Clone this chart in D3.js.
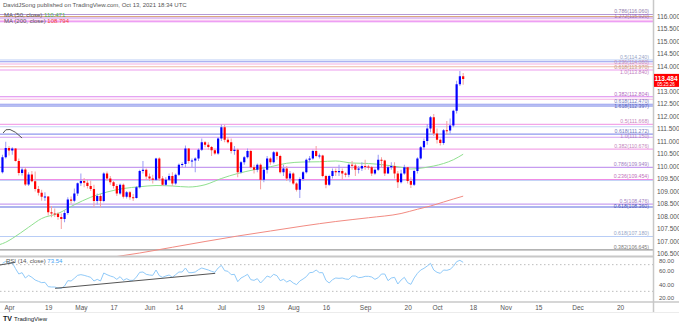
<!DOCTYPE html>
<html><head><meta charset="utf-8">
<script src="https://cdn.jsdelivr.net/npm/d3@7"></script>
<style>body{margin:0;background:#fff;overflow:hidden}svg{display:block;font-family:"Liberation Sans",Arial,sans-serif}</style>
</head><body><svg id="c" width="679" height="325"></svg>
<script>
// ---------- DATA ----------
const firstBarDate = "2021-03-30";
const opens = [109.75,110.35,110.72,110.62,110.70,110.20,109.72,109.86,109.26,109.66,109.39,109.08,108.93,108.77,108.78,108.15,108.10,108.09,107.96,107.88,108.12,108.66,108.61,108.90,109.31,109.40,109.33,109.20,109.08,108.60,108.80,108.60,109.70,109.50,109.35,109.20,108.90,109.25,108.77,108.95,108.75,108.72,109.15,109.80,109.85,109.58,109.50,109.45,110.30,109.50,109.25,109.45,109.60,109.30,109.65,110.05,110.08,110.70,110.20,110.22,110.30,110.65,110.95,110.85,110.76,110.63,110.50,111.10,111.55,111.05,110.95,110.60,110.65,109.75,110.15,110.35,110.60,109.95,109.85,110.05,109.45,109.85,110.30,110.15,110.55,110.40,109.75,109.90,109.50,109.70,109.30,109.05,109.48,109.75,110.25,110.30,110.60,110.40,110.42,109.60,109.25,109.60,109.80,109.75,109.80,109.70,109.65,110.05,110.02,109.85,109.90,110.00,109.98,109.95,109.70,109.85,110.25,110.22,109.70,109.95,110.00,109.70,109.35,109.70,109.95,109.40,109.25,109.80,110.30,110.75,111.00,111.50,111.95,111.30,111.05,110.92,111.43,111.42,111.62,112.21,113.27,113.59];
const highs = [110.45,110.97,110.80,110.75,110.72,110.30,109.95,109.95,109.75,109.80,109.78,109.20,109.05,108.95,108.80,108.40,108.30,108.15,108.10,108.22,108.75,108.78,109.10,109.34,109.70,109.52,109.45,109.42,109.25,108.90,108.88,109.75,109.78,109.60,109.40,109.28,109.30,109.30,109.00,109.00,108.88,109.20,109.85,110.20,109.90,109.70,109.65,110.33,110.35,109.60,109.55,109.70,109.75,109.70,110.10,110.15,110.82,110.72,110.30,110.35,110.70,111.10,111.00,110.95,110.80,110.70,111.15,111.66,111.65,111.15,111.10,110.80,110.70,110.20,110.40,110.70,110.65,110.05,110.10,110.10,109.95,110.40,110.35,110.60,110.60,110.45,110.05,110.00,109.80,109.75,109.35,109.55,109.80,110.30,110.40,110.65,110.80,110.50,110.45,109.65,109.65,109.90,109.90,110.05,109.90,109.75,110.10,110.20,110.10,110.00,110.15,110.25,110.05,110.00,109.90,110.45,110.35,110.25,110.00,110.15,110.15,109.80,109.85,110.05,109.95,109.55,109.85,110.35,110.80,111.10,111.68,112.00,112.08,111.50,111.10,111.48,111.80,111.90,112.25,113.41,113.80,113.72];
const lows = [109.70,110.30,110.42,110.45,110.18,109.62,109.62,109.20,109.20,109.35,108.98,108.82,108.61,108.60,108.02,107.95,107.96,107.85,107.48,107.75,108.05,108.50,108.55,108.80,109.20,109.15,109.10,109.00,108.35,108.45,108.35,108.55,109.40,109.25,109.10,108.80,108.85,108.70,108.70,108.65,108.60,108.70,109.10,109.70,109.45,109.40,109.30,109.40,109.40,109.20,109.20,109.40,109.20,109.25,109.60,109.95,109.95,110.10,109.95,109.75,110.20,110.60,110.75,110.65,110.40,110.45,110.45,111.00,110.95,110.90,110.50,110.45,109.55,109.70,110.05,110.30,109.90,109.70,109.75,109.07,109.35,109.70,110.05,110.10,110.25,109.70,109.60,109.40,109.35,109.25,108.98,108.72,109.40,109.70,110.15,110.25,110.35,110.30,109.55,109.11,109.20,109.50,109.60,109.60,109.45,109.55,109.55,109.85,109.60,109.70,109.80,109.85,109.85,109.60,109.65,109.80,109.95,109.60,109.70,109.85,109.50,109.12,109.30,109.65,109.30,109.12,109.20,109.70,110.25,110.65,110.85,111.35,111.20,110.90,110.82,110.85,111.25,111.30,111.55,112.10,113.20,113.25];
const closes = [110.35,110.72,110.62,110.70,110.20,109.72,109.86,109.26,109.66,109.39,109.08,108.93,108.77,108.78,108.15,108.10,108.09,107.96,107.88,108.12,108.66,108.61,108.90,109.31,109.40,109.33,109.20,109.08,108.60,108.80,108.60,109.70,109.50,109.35,109.20,108.90,109.25,108.77,108.95,108.75,108.72,109.15,109.80,109.85,109.58,109.50,109.45,110.30,109.50,109.25,109.45,109.60,109.30,109.65,110.05,110.08,110.70,110.20,110.22,110.30,110.65,110.95,110.85,110.76,110.63,110.50,111.10,111.55,111.05,110.95,110.60,110.65,109.75,110.15,110.35,110.60,109.95,109.85,110.05,109.45,109.85,110.30,110.15,110.55,110.40,109.75,109.90,109.50,109.70,109.30,109.05,109.48,109.75,110.25,110.30,110.60,110.40,110.42,109.60,109.25,109.60,109.80,109.75,109.80,109.70,109.65,110.05,110.02,109.85,109.90,110.00,109.98,109.95,109.70,109.85,110.25,110.22,109.70,109.95,110.00,109.70,109.35,109.70,109.95,109.40,109.25,109.80,110.30,110.75,111.00,111.50,111.95,111.30,111.05,110.92,111.43,111.42,111.62,112.21,113.27,113.59,113.48];
const rsiValues = [72,75,72,73,64,56,58,50,54,51,47,45,43,43.5,37,36.5,36.5,35,34.5,38,46,45.5,49.5,54,55,54,52.5,51,45.5,48,45.5,57.5,55,53,51.5,48,52,46.5,49,46.5,46.5,51.5,58.5,59,55.5,54.5,54,62,53.5,51,53,54.5,51,55,59,59,65,58,58,59,62.5,65,63.5,62,60,58.5,65,69,61,60,55,55.5,44.5,50,52.5,55.5,47.5,46.5,49,42.5,47.5,53,51,55.5,53.5,46,48,44,46.5,42.5,40,45.5,48.5,52,58,58.5,62,58,58,46.5,42.5,47.5,50,49.5,50,48.5,48,53,53,50.5,51,52.5,52.5,51.5,48,50.5,56,56,46,50,51,41,47,51,43,40.5,50,57,62,64.5,68,72,62,58.5,57,62,61.5,63,67.5,74.5,76.5,73.54];
const ma50Bars = [-1,1,3,8,12,17,22,27,32,37,42,47,52,57,62,67,72,77,82,87,92,97,102,107,112,117,122,125,129,132,135,138,141];
const ma50Values = [106.85,106.95,107.10,107.55,107.90,108.10,108.45,108.75,108.96,109.10,109.17,109.22,109.20,109.16,109.25,109.50,109.70,109.85,109.97,110.11,110.16,110.17,110.20,110.12,110.10,110.04,109.95,109.88,109.93,110.00,110.10,110.25,110.471];
const ma200Bars = [33,42,52,62,72,82,92,102,112,122,127,131,135,138,141];
const ma200Values = [106.34,106.52,106.75,106.98,107.20,107.40,107.60,107.78,107.93,108.10,108.27,108.40,108.56,108.68,108.794];
const priceTicks = [106.5,107,107.5,108,108.5,109,109.5,110,110.5,111,111.5,112,112.5,113,114,114.5,115,115.5,116];
const rsiTicks = [20,40,60,80];
const timeTickDates = ["2021-04-01","2021-04-19","2021-05-03","2021-05-17","2021-06-01","2021-06-14","2021-07-01","2021-07-19","2021-08-02","2021-08-16","2021-09-01","2021-09-20","2021-10-01","2021-10-18","2021-11-01","2021-11-15","2021-12-01","2021-12-20"];
const timeTickLabels = ["Apr","19","May","17","Jun","14","Jul","19","Aug","16","Sep","20","Oct","18","Nov","15","Dec","20"];
const fibPrices = [116.06,115.98,115.92,115.83,115.77,114.24,114.17,114.08,113.97,113.84,112.77,112.67,112.47,112.40,111.668,111.57,111.272,111.15,110.676,109.949,109.454,109.42,108.476,108.36,107.18,106.645];
const fibTexts = ["0.786(116.060)","","1.272(115.920)","","","0.5(114.240)","","0.236(114.080)","0.618(113.970)","1.0(113.840)","0.382(112.804)","","0.618(112.470)","1.618(112.397)","0.5(111.668)","","0.618(111.272)","1.0(111.150)","0.382(110.676)","0.786(109.949)","0.236(109.454)","","0.5(108.476)","0.618(108.360)","0.618(107.180)","0.382(106.645)"];
const fibColors = ["#b49ad6","#d9a87e","#c48ae6","#f6b3ee","#e77ff0","#bccdf6","#8f98ee","#f3b1e2","#efb9a8","#ee9cee","#dd85ee","#f6b3e3","#8f98ee","#6f7de6","#f3a6e8","#c4d4f6","#8f98ee","#d59ef0","#f3a6e8","#c69cf0","#ef8ce6","#c4d4f6","#c9a0f0","#5c6be0","#b8cdf6","#9a9a9a"];
const lastPrice = 113.484;
const countdownText = "05:25:26";
const rsiTrendA = {bars:[-0.8,3.8], values:[69.5,73.3]};
const rsiTrendB = {bars:[16.1,65.1], values:[34.5,57]};
const arcMark = {bars:[0.2,2.3,6], prices:[111.32,111.46,111.12]};

// ---------- LAYOUT ----------
const svg = d3.select("#c");
const W = 679, plotRight = 653, priceTop = 0, priceBottom = 256, rsiTop = 257, rsiBottom = 301, timeAxisY = 302;
const x = d3.scaleLinear().domain([-0.756, 199.1]).range([0, plotRight]);
const y = d3.scaleLinear().domain([106.4, 116.64]).range([priceBottom, priceTop]);
const yr = d3.scaleLinear().domain([20, 80]).range([298, 258]);
const parse = d3.timeParse("%Y-%m-%d");
const start = parse(firstBarDate);
const barIndex = s => d3.timeDay.range(start, parse(s)).filter(t => t.getDay() % 6 !== 0).length;

const defs = svg.append("defs");
defs.append("clipPath").attr("id","cp").append("rect").attr("x",0).attr("y",priceTop).attr("width",plotRight).attr("height",priceBottom-priceTop);
defs.append("clipPath").attr("id","cr").append("rect").attr("x",0).attr("y",rsiTop).attr("width",plotRight).attr("height",rsiBottom-rsiTop);

const gp = svg.append("g").attr("clip-path","url(#cp)");
fibPrices.forEach((p,i) => {
  gp.append("line").attr("x1",0).attr("x2",plotRight).attr("y1",y(p)).attr("y2",y(p))
    .attr("stroke",fibColors[i]).attr("stroke-width",1.2);
});
const labelIdx = fibPrices.map((p,i)=>i).filter(i=>fibTexts[i]).sort((a,b)=>y(fibPrices[a])-y(fibPrices[b]));
let prevY = -Infinity;
labelIdx.forEach(i => {
  let ly = Math.max(y(fibPrices[i]) - 1.2, prevY + 5);
  prevY = ly;
  gp.append("text").attr("x",649).attr("y",ly).attr("text-anchor","end")
    .attr("font-size","5.2px").attr("fill",d3.color(fibColors[i]).darker(0.6)).text(fibTexts[i]);
});
const line = d3.line().curve(d3.curveMonotoneX);
gp.append("path").attr("d", line(ma50Bars.map((b,i)=>[x(b), y(ma50Values[i])])))
  .attr("fill","none").attr("stroke","#8fe08f").attr("stroke-width",1);
gp.append("path").attr("d", line(ma200Bars.map((b,i)=>[x(b), y(ma200Values[i])])))
  .attr("fill","none").attr("stroke","#f28b82").attr("stroke-width",1);
const bw = 2.2;
closes.forEach((c,i) => {
  const o = opens[i], up = c >= o;
  const cx = x(i);
  gp.append("line").attr("x1",cx).attr("x2",cx).attr("y1",y(highs[i])).attr("y2",y(lows[i]))
    .attr("stroke", up ? "#9a9af5" : "#f5a0a0").attr("stroke-width",1);
  const top = y(Math.max(o,c)), h = Math.max(1, Math.abs(y(o)-y(c)));
  gp.append("rect").attr("x",cx-bw/2).attr("y",top).attr("width",bw).attr("height",h)
    .attr("fill", up ? "#0000ff" : "#ff0000");
});
{
  const p0=[x(arcMark.bars[0]),y(arcMark.prices[0])], pa=[x(arcMark.bars[1]),y(arcMark.prices[1])], p1=[x(arcMark.bars[2]),y(arcMark.prices[2])];
  const cp=[2*pa[0]-(p0[0]+p1[0])/2, 2*pa[1]-(p0[1]+p1[1])/2];
  const pth=d3.path(); pth.moveTo(...p0); pth.quadraticCurveTo(...cp,...p1);
  gp.append("path").attr("d",pth.toString()).attr("fill","none").attr("stroke","#555").attr("stroke-width",1);
}

svg.append("line").attr("x1",0).attr("x2",plotRight).attr("y1",priceBottom+0.5).attr("y2",priceBottom+0.5).attr("stroke","#c8c8c8").attr("stroke-width",2);
svg.append("line").attr("x1",0).attr("x2",W).attr("y1",timeAxisY).attr("y2",timeAxisY).attr("stroke","#c8c8c8").attr("stroke-width",1.5);
svg.append("line").attr("x1",0).attr("x2",W).attr("y1",312.5).attr("y2",312.5).attr("stroke","#ececec").attr("stroke-width",1);
svg.append("line").attr("x1",plotRight+0.5).attr("x2",plotRight+0.5).attr("y1",0).attr("y2",312).attr("stroke","#c8c8c8").attr("stroke-width",1.5);

const gr = svg.append("g").attr("clip-path","url(#cr)");
[70,30].forEach(v => gr.append("line").attr("x1",0).attr("x2",plotRight).attr("y1",yr(v)).attr("y2",yr(v))
  .attr("stroke","#bdbdbd").attr("stroke-width",1).attr("stroke-dasharray","1.5,2.5"));
gr.append("path").attr("d", d3.line()(rsiValues.map((v,i)=>[x(i), yr(v)])))
  .attr("fill","none").attr("stroke","#90caf9").attr("stroke-width",1);
[rsiTrendA, rsiTrendB].forEach(t => gr.append("line")
  .attr("x1",x(t.bars[0])).attr("y1",yr(t.values[0])).attr("x2",x(t.bars[1])).attr("y2",yr(t.values[1]))
  .attr("stroke","#555").attr("stroke-width",1));

const ax = svg.append("g").attr("transform",`translate(${plotRight},0)`)
  .call(d3.axisRight(y).tickValues(priceTicks).tickFormat(d3.format(".3f")).tickSize(0).tickPadding(4));
ax.select(".domain").remove();
ax.selectAll("text").attr("font-size","6.5px").attr("fill","#555").attr("font-family","Liberation Sans, Arial");
const axr = svg.append("g").attr("transform",`translate(${plotRight},0)`)
  .call(d3.axisRight(yr).tickValues(rsiTicks).tickFormat(d3.format(".2f")).tickSize(0).tickPadding(6));
axr.select(".domain").remove();
axr.selectAll(".tick").attr("transform", d => `translate(0,${Math.max(yr(d), 261.5)})`);
axr.selectAll("text").attr("font-size","6px").attr("fill","#555").attr("font-family","Liberation Sans, Arial");

svg.append("rect").attr("x",plotRight+1).attr("y",y(lastPrice)-5).attr("width",26).attr("height",13).attr("fill","#ff0000");
svg.append("text").attr("x",666).attr("y",y(lastPrice)+2).attr("text-anchor","middle").attr("font-size","6.5px").attr("fill","#fff").attr("font-weight","bold").text(d3.format(".3f")(lastPrice));
svg.append("text").attr("x",666).attr("y",y(lastPrice)+7).attr("text-anchor","middle").attr("font-size","4.5px").attr("fill","#fff").text(countdownText);

const tx = svg.append("g").attr("transform",`translate(0,${timeAxisY})`)
  .call(d3.axisBottom(x).tickValues(timeTickDates.map(barIndex)).tickFormat((d,i)=>timeTickLabels[i]).tickSize(0).tickPadding(3));
tx.select(".domain").remove();
tx.selectAll("text").attr("font-size","6.5px").attr("fill","#555").attr("font-family","Liberation Sans, Arial");

svg.append("text").attr("x",3).attr("y",7).attr("font-size","6px").attr("fill","#555").text("DavidJSong published on TradingView.com, Oct 13, 2021 18:34 UTC");
const l1 = svg.append("text").attr("x",4).attr("y",16.5).attr("font-size","6px").attr("fill","#555");
l1.append("tspan").text("MA (50, close) ");
l1.append("tspan").attr("fill","#4caf50").text(d3.format(".3f")(ma50Values[ma50Values.length-1]));
const l2 = svg.append("text").attr("x",4).attr("y",23).attr("font-size","6px").attr("fill","#555");
l2.append("tspan").text("MA (200, close) ");
l2.append("tspan").attr("fill","#f44336").text(d3.format(".3f")(ma200Values[ma200Values.length-1]));
const l3 = svg.append("text").attr("x",6).attr("y",263).attr("font-size","6px").attr("fill","#555");
l3.append("tspan").text("RSI (14, close) ");
l3.append("tspan").attr("fill","#42a5f5").text(d3.format(".2f")(rsiValues[rsiValues.length-1]));

svg.append("text").attr("x",3).attr("y",321).attr("font-size","7px").attr("font-weight","bold").attr("fill","#131722").text("TV");
svg.append("text").attr("x",14).attr("y",321).attr("font-size","6px").attr("fill","#131722").text("TradingView");
</script></body></html>
